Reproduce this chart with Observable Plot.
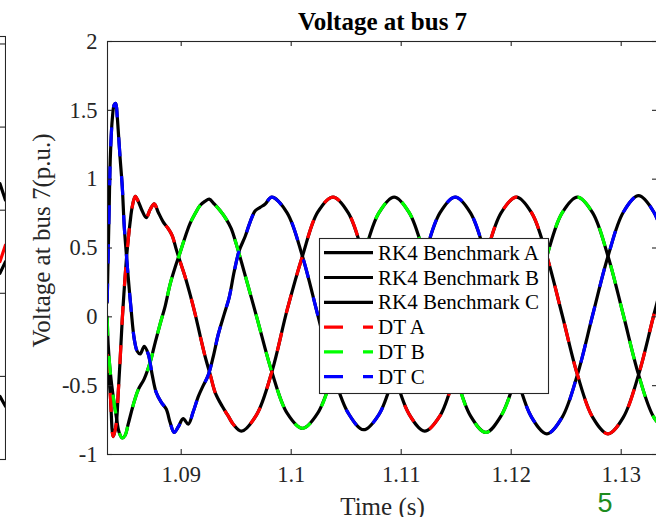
<!DOCTYPE html>
<html><head><meta charset="utf-8">
<script src="https://cdn.jsdelivr.net/npm/d3@7"></script>
<script src="https://cdn.jsdelivr.net/npm/@observablehq/plot@0.6"></script>
<style>
body{margin:0;background:#fff;}
#wrap{position:relative;width:656px;height:517px;overflow:hidden;background:#fff;}
#wrap > *{position:absolute;top:0;left:0;max-width:none !important;}
</style></head><body><div id="wrap"></div>
<script>
// ---- data ----
const title = "Voltage at bus 7";
const xLabel = "Time (s)";
const yLabel = "Voltage at bus 7(p.u.)";
const xTicks = [1.09, 1.1, 1.11, 1.12, 1.13];
const yTicks = [-1, -0.5, 0, 0.5, 1, 1.5, 2];
const legendNames = ["RK4 Benchmark A", "RK4 Benchmark B", "RK4 Benchmark C", "DT A", "DT B", "DT C"];
const dtColors = ["#ff0000", "#00ff00", "#0000ff"];
const pageNumber = "5";

// Phase A
const tA = [1.08327,1.08355,1.08382,1.08409,1.08427,1.08445,1.08464,1.08482,1.08500,1.08518,1.08536,1.08555,1.08582,1.08609,1.08645,1.08682,1.08718,1.08755,1.08791,1.08836,1.08882,1.08918,1.08955,1.08991,1.09036,1.09082,1.09127,1.09173,1.09218,1.09264,1.09309,1.09373,1.09427,1.09473,
  1.09547,1.09686,1.09824,1.09963,1.10102,1.10241,1.10380,1.10519,1.10658,1.10797,1.10936,1.11074,1.11213,1.11352,1.11491,1.11630,1.11769,1.11908,1.12047,1.12186,1.12324,1.12463,1.12602,1.12741,1.12880,1.13019,1.13158,1.13297,1.13436];
const vA = [-0.27,-0.56,-0.87,-0.78,-0.56,-0.31,-0.02,0.20,0.40,0.56,0.69,0.80,0.875,0.84,0.77,0.72,0.78,0.82,0.76,0.69,0.64,0.59,0.49,0.40,0.29,0.16,0.02,-0.14,-0.29,-0.42,-0.55,-0.65,-0.72,-0.78,
  -0.83,-0.71,-0.40,0.05,0.44,0.76,0.87,0.755,0.44,0.015,-0.41,-0.71,-0.83,-0.72,-0.41,0.015,0.44,0.755,0.87,0.755,0.44,0.015,-0.42,-0.73,-0.85,-0.73,-0.42,0.015,0.44];

// Phase B
const tB = [1.08327,1.08336,1.08355,1.08382,1.08409,1.08436,1.08464,1.08491,1.08518,1.08564,1.08609,1.08664,1.08718,1.08764,1.08809,1.08855,1.08900,1.08945,1.08991,1.09036,1.09082,1.09127,1.09173,1.09218,1.09255,1.09300,1.09355,1.09409,1.09455,1.09500,
  1.09547,1.09686,1.09824,1.09963,1.10102,1.10241,1.10380,1.10519,1.10658,1.10797,1.10936,1.11074,1.11213,1.11352,1.11491,1.11630,1.11769,1.11908,1.12047,1.12186,1.12324,1.12463,1.12602,1.12741,1.12880,1.13019,1.13158,1.13297,1.13436];
const vB = [0.0,-0.2,-0.4,-0.58,-0.72,-0.84,-0.88,-0.86,-0.78,-0.64,-0.53,-0.45,-0.33,-0.185,-0.05,0.08,0.24,0.36,0.47,0.58,0.68,0.75,0.81,0.84,0.855,0.82,0.77,0.71,0.64,0.53,
  0.40,0.0,-0.40,-0.70,-0.81,-0.70,-0.41,0.015,0.44,0.755,0.87,0.755,0.44,0.015,-0.41,-0.72,-0.84,-0.72,-0.42,0.015,0.44,0.755,0.87,0.755,0.44,0.015,-0.42,-0.73,-0.85];

// Phase C
const tC = [1.08327,1.08345,1.08355,1.08373,1.08391,1.08405,1.08418,1.08427,1.08445,1.08464,1.08482,1.08500,1.08518,1.08545,1.08573,1.08600,1.08627,1.08664,1.08700,1.08736,1.08773,1.08818,1.08864,1.08900,1.08936,1.08973,1.09018,1.09064,1.09109,1.09155,1.09200,1.09245,1.09291,1.09336,1.09391,1.09436,1.09482,1.09527,1.09582,1.09627,1.09673,1.09718,1.09764,
  1.09824,1.09963,1.10102,1.10241,1.10380,1.10519,1.10658,1.10797,1.10936,1.11074,1.11213,1.11352,1.11491,1.11630,1.11769,1.11908,1.12047,1.12186,1.12324,1.12463,1.12602,1.12741,1.12880,1.13019,1.13158,1.13297,1.13436];
const vC = [0.105,0.78,1.14,1.43,1.54,1.55,1.46,1.36,1.15,0.95,0.66,0.47,0.29,0.05,-0.16,-0.25,-0.27,-0.215,-0.27,-0.42,-0.55,-0.62,-0.67,-0.77,-0.84,-0.80,-0.74,-0.78,-0.69,-0.58,-0.50,-0.425,-0.29,-0.13,0.02,0.14,0.33,0.48,0.585,0.69,0.77,0.795,0.82,
  0.87,0.755,0.44,0.015,-0.41,-0.70,-0.82,-0.71,-0.41,0.015,0.44,0.755,0.87,0.755,0.44,0.015,-0.42,-0.73,-0.85,-0.73,-0.42,0.015,0.44,0.76,0.88,0.76,0.44];

// Fragment of the neighbouring panel (left edge)
const fragTicks = [-0.5, 0, 0.5, 1, 1.5];
const fragX = [0.86, 1.0];
const fragBlack1 = [0.66, 0.56];
const fragBlack2 = [0.12, 0.19];
const fragRed = [0.19, 0.29];
const fragBlack3 = [-0.62, -0.68];

// ---- build ----
const serif = "'Liberation Serif','Times New Roman',serif";
const phases = [[tA, vA], [tB, vB], [tC, vC]].map(([t, v]) => t.map((ti, i) => ({t: ti, v: v[i]})));
const axisColor = "#262626";

const W = 700, H = 517, mL = 107, mR = 43, mT = 41, mB = 63;
const fw = W - mL - mR, fh = H - mT - mB;

const chart = Plot.plot({
  width: W, height: H,
  marginLeft: mL, marginRight: mR, marginTop: mT, marginBottom: mB,
  x: {domain: [1.0833, 1.1333], axis: null},
  y: {domain: [-1, 2], axis: null},
  style: {fontFamily: serif, background: "white", color: axisColor, maxWidth: "none", width: W + "px", height: H + "px"},
  marks: [
    ...phases.map(rows => Plot.line(rows, {x: "t", y: "v", stroke: "black", strokeWidth: 3.2, curve: "catmull-rom", clip: true, strokeLinejoin: "round"})),
    ...phases.map((rows, i) => Plot.line(rows, {x: "t", y: "v", stroke: dtColors[i], strokeWidth: 3.2, strokeDasharray: "19,20", strokeLinecap: "butt", curve: "catmull-rom", clip: true})),
    Plot.frame({stroke: axisColor, strokeWidth: 1.1}),
    Plot.tickX(xTicks, {x: d => d, insetTop: fh - 5, stroke: axisColor, strokeWidth: 1.1}),
    Plot.tickX(xTicks, {x: d => d, insetBottom: fh - 5, stroke: axisColor, strokeWidth: 1.1}),
    Plot.tickY(yTicks, {y: d => d, insetRight: fw - 5, stroke: axisColor, strokeWidth: 1.1}),
    Plot.tickY(yTicks, {y: d => d, insetLeft: fw - 5, stroke: axisColor, strokeWidth: 1.1}),
    Plot.axisX({ticks: xTicks, tickSize: 0, tickPadding: 12, fontSize: 22.5, tickFormat: d => String(d), label: null, fill: axisColor}),
    Plot.axisY({ticks: yTicks, tickSize: 0, tickPadding: 10, fontSize: 22.5, tickFormat: d => String(d), label: null, fill: axisColor}),
    Plot.text([title], {text: d => d, frameAnchor: "top", textAnchor: "middle", lineAnchor: "middle", dy: -20, fontSize: 25, fontWeight: "bold", fill: "black"}),
    Plot.text([xLabel], {text: d => d, frameAnchor: "bottom", textAnchor: "middle", lineAnchor: "middle", dy: 52, fontSize: 25, fill: axisColor}),
    Plot.text([yLabel], {text: d => d, frameAnchor: "left", textAnchor: "middle", lineAnchor: "middle", dx: -66, dy: -7.5, rotate: -90, fontSize: 25, fill: axisColor})
  ]
});

const fragRows = arr => fragX.map((x, i) => ({x, y: arr[i]}));
const frag = Plot.plot({
  width: 41, height: 517, marginLeft: 0, marginRight: 1, marginTop: 36, marginBottom: 58,
  x: {domain: [0, 1], axis: null},
  y: {domain: [-1, 1.545], axis: null},
  style: {background: "transparent", maxWidth: "none", width: "41px", height: "517px"},
  marks: [
    Plot.line(fragRows(fragBlack1), {x: "x", y: "y", stroke: "black", strokeWidth: 3.2}),
    Plot.line(fragRows(fragBlack2), {x: "x", y: "y", stroke: "black", strokeWidth: 3.2}),
    Plot.line(fragRows(fragRed), {x: "x", y: "y", stroke: "#ff0000", strokeWidth: 3.2}),
    Plot.line(fragRows(fragBlack3), {x: "x", y: "y", stroke: "black", strokeWidth: 3.2}),
    Plot.frame({stroke: axisColor, strokeWidth: 1.1}),
    Plot.tickY(fragTicks, {y: d => d, insetLeft: 35, stroke: axisColor, strokeWidth: 1.1})
  ]
});
frag.style.left = "-35px";

const wrap = document.getElementById("wrap");
wrap.appendChild(chart);
wrap.appendChild(frag);

// legend
const lg = d3.create("svg").attr("width", 656).attr("height", 517).style("font-family", serif);
const lx = 319, ly = 238, lw = 229, lh = 155;
lg.append("rect").attr("x", lx + 0.5).attr("y", ly + 0.5).attr("width", lw).attr("height", lh)
  .attr("fill", "white").attr("stroke", axisColor).attr("stroke-width", 1.1);
legendNames.forEach((name, i) => {
  const cy = ly + 14.7 + i * 24.8;
  const dt = i >= 3;
  lg.append("line").attr("x1", lx + 5).attr("x2", lx + 54).attr("y1", cy).attr("y2", cy)
    .attr("stroke", dt ? dtColors[i - 3] : "black").attr("stroke-width", 3.2)
    .attr("stroke-dasharray", dt ? "19,20" : null);
  lg.append("text").attr("x", lx + 59).attr("y", cy + 7).attr("font-size", 21).attr("fill", "black").text(name);
});
lg.append("text").attr("x", 605).attr("y", 512).attr("text-anchor", "middle")
  .attr("font-family", "'Liberation Sans',Arial,sans-serif").attr("font-size", 27).attr("fill", "#1e8c1e").text(pageNumber);
wrap.appendChild(lg.node());
</script></body></html>
